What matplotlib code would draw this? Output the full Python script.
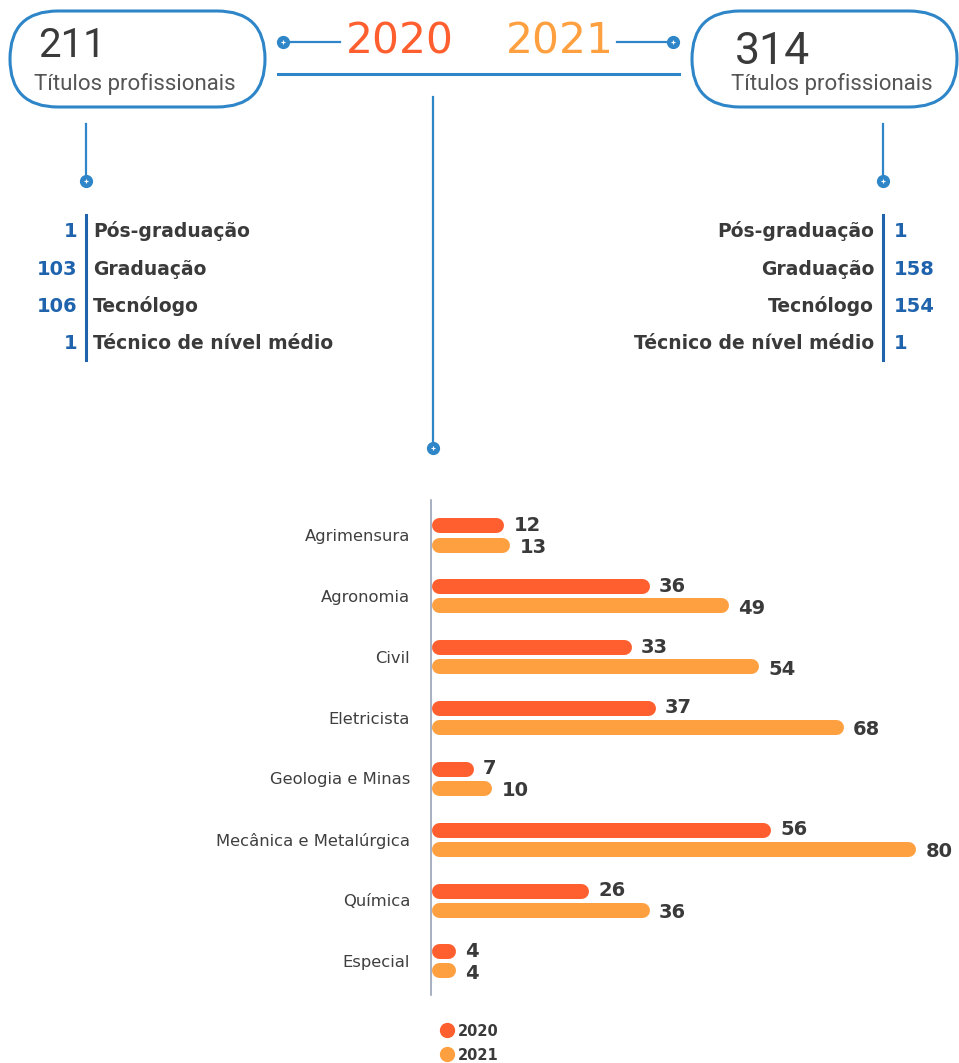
import matplotlib.pyplot as plt
from matplotlib.patches import FancyBboxPatch

# dados
categorias = ['Agrimensura', 'Agronomia', 'Civil', 'Eletricista', 'Geologia e Minas',
              'Mecânica e Metalúrgica', 'Química', 'Especial']
v2020 = [12, 36, 33, 37, 7, 56, 26, 4]
v2021 = [13, 49, 54, 68, 10, 80, 36, 4]

tipos = ['Pós-graduação', 'Graduação', 'Tecnólogo', 'Técnico de nível médio']
tipos_2020 = [1, 103, 106, 1]
tipos_2021 = [1, 158, 154, 1]
total_2020 = 211
total_2021 = 314
anos = ['2020', '2021']

c2020 = '#ff5f2e'
c2021 = '#ffa040'
azul = '#2e86c8'
azul_esc = '#1f63ad'
cinza = '#3a3a3a'

W, H = 959, 1063
fig = plt.figure(figsize=(W / 100, H / 100), dpi=100)

# camada de fundo em pixels
ov = fig.add_axes([0, 0, 1, 1])
ov.set_xlim(0, W)
ov.set_ylim(H, 0)
ov.axis('off')


def ponto(x, y):
    ov.plot(x, y, 'o', ms=8.5, color=azul, zorder=5)
    ov.plot(x, y, '+', ms=2.5, mew=0.8, color='white', zorder=6)


# pilulas (caixa de altura zero com pad = raio)
for x0, x1 in [(10, 265), (692, 957)]:
    ov.add_patch(FancyBboxPatch((x0 + 48, 59), x1 - x0 - 96, 0,
                                boxstyle='round,pad=48,rounding_size=48',
                                fill=False, ec=azul, lw=2.2))

ov.text(38, 57, str(total_2020), fontsize=29, family='Roboto', color=cinza)
ov.text(34, 90, 'Títulos profissionais', fontsize=16, family='Roboto', color='#555555')
ov.text(735, 64, str(total_2021), fontsize=32, family='Roboto', color=cinza)
ov.text(731, 90, 'Títulos profissionais', fontsize=16, family='Roboto', color='#555555')

ov.text(346, 54, anos[0], fontsize=30.5, color=c2020)
ov.text(506, 54, anos[1], fontsize=30.5, color=c2021)

# conectores
ov.plot([290, 340], [42, 42], color=azul, lw=1.6)
ponto(283, 42)
ov.plot([617, 666], [42, 42], color=azul, lw=1.6)
ponto(673, 42)
ov.plot([278, 679], [74, 74], color=azul, lw=2.2)
ov.plot([433, 433], [97, 442], color=azul, lw=1.6)
ponto(433, 448)
for x in (86, 883):
    ov.plot([x, x], [124, 174], color=azul, lw=1.6)
    ponto(x, 181)
    ov.plot([x, x], [215, 360], color=azul_esc, lw=2.2)

ys = [237, 275, 312, 349]
for t, a, b, y in zip(tipos, tipos_2020, tipos_2021, ys):
    ov.text(77, y, str(a), ha='right', fontsize=14, weight='bold', color=azul_esc)
    ov.text(93, y, t, ha='left', fontsize=13.5, weight='bold', color=cinza)
    ov.text(874, y, t, ha='right', fontsize=13.5, weight='bold', color=cinza)
    ov.text(894, y, str(b), ha='left', fontsize=14, weight='bold', color=azul_esc)

# grafico de barras
ax = fig.add_axes([431 / W, (H - 995) / H, (W - 431) / W, 495 / H])
ax.set_facecolor('none')
ax.set_xlim(0, 87.1)
ax.set_ylim(7.56, -0.575)
for s in ['top', 'right', 'bottom']:
    ax.spines[s].set_visible(False)
ax.spines['left'].set_color('#8e9bb0')
ax.spines['left'].set_linewidth(1.1)
ax.set_xticks([])
ax.set_yticks(range(len(categorias)))
ax.set_yticklabels(categorias, fontsize=11.8, color='#3f3f3f')
ax.tick_params(axis='y', length=0, pad=15)

r = 7.5 / 6.06  # raio da ponta arredondada em unidades de dados
off = 0.157
for i, (a, b) in enumerate(zip(v2020, v2021)):
    for v, dy, c, ty in [(a, -off, c2020, 0), (b, off, c2021, -2)]:
        ax.plot([r, v - r], [i + dy, i + dy], color=c, lw=10.8, solid_capstyle='round')
        ax.annotate(str(v), xy=(v, i + dy), xytext=(7, ty), textcoords='offset points',
                    va='center', ha='left', fontsize=14, weight='bold', color=cinza)

# legenda
for y, c, t in [(1030, c2020, anos[0]), (1054, c2021, anos[1])]:
    ov.plot(447, y, 'o', ms=10, color=c)
    ov.text(458, y + 6, t, fontsize=10.5, weight='bold', color=cinza)

fig.savefig('out.png', dpi=100)
